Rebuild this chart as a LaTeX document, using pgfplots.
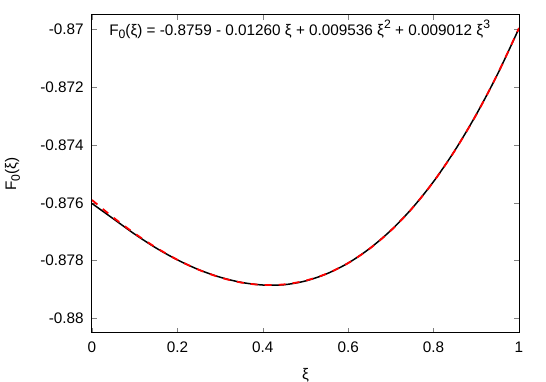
\documentclass[border=0pt]{standalone}
\usepackage{pgfplots}
\pgfplotsset{compat=1.18}
\usepackage{fontspec}
\setmainfont{Liberation Sans}
\newcommand\fs{\fontsize{15.3}{18}\selectfont}
\newcommand\sub[1]{\raisebox{-0.45ex}{\fontsize{12.2}{14}\selectfont #1}}
\newcommand\sups[1]{\raisebox{0.8ex}{\fontsize{12.2}{14}\selectfont #1}}
\begin{document}
\fs
\begin{tikzpicture}
\begin{axis}[
  scale only axis, width=427pt, height=318pt,
  xmin=0, xmax=1, ymin=-0.8805, ymax=-0.8695,
  xtick={0,0.2,0.4,0.6,0.8,1},
  xticklabels={0,0.2,0.4,0.6,0.8,1},
  ytick={-0.88,-0.878,-0.876,-0.874,-0.872,-0.87},
  yticklabels={-0.88,-0.878,-0.876,-0.874,-0.872,-0.87},
  tick align=inside, major tick length=5pt,
  tick style={gray, line width=0.6pt},
  axis line style={line width=1pt},
  ticklabel style={font=\fs},
  xticklabel style={yshift=-4pt},
  yticklabel style={xshift=-3pt},
  xlabel={ξ}, ylabel={F\sub{0}(ξ)},
  label style={font=\fs},
  xlabel style={yshift=-5pt},
  ylabel style={yshift=10pt},
  clip=true,
]
\addplot[black, line width=1.5pt, smooth] coordinates {
(0,-0.87602) (0.05,-0.87655) (0.1,-0.87708) (0.15,-0.87756) (0.2,-0.87797)
(0.25,-0.87831) (0.3,-0.87857) (0.35,-0.87875) (0.4,-0.87884) (0.45,-0.87883)
(0.5,-0.87870) (0.55,-0.87845) (0.6,-0.87808) (0.65,-0.87758) (0.7,-0.87695)
(0.75,-0.87618) (0.8,-0.87526) (0.85,-0.87418) (0.9,-0.87294) (0.95,-0.87154)
(1,-0.86996)
};
\addplot[red, line width=1.8pt, dash pattern=on 7pt off 7pt, smooth] coordinates {
(0,-0.8759) (0.05,-0.876505) (0.1,-0.877056) (0.15,-0.877545) (0.2,-0.877967)
(0.25,-0.878313) (0.3,-0.878578) (0.35,-0.878756) (0.4,-0.878838) (0.45,-0.878818)
(0.5,-0.878690) (0.55,-0.878446) (0.6,-0.878081) (0.65,-0.877586) (0.7,-0.876956)
(0.75,-0.876184) (0.8,-0.875263) (0.85,-0.874186) (0.9,-0.872946) (0.95,-0.871537)
(1,-0.869952)
};
\node[anchor=west, inner sep=0pt, font=\fs] at (axis cs:0.04,-0.87)
  {F\sub{0}(ξ) = -0.8759 - 0.01260 ξ + 0.009536 ξ\sups{2} + 0.009012 ξ\sups{3}};
\end{axis}
\pgfresetboundingbox
\path[use as bounding box] (-92pt,-49pt) rectangle (454pt,333pt);
\end{tikzpicture}
\end{document}
